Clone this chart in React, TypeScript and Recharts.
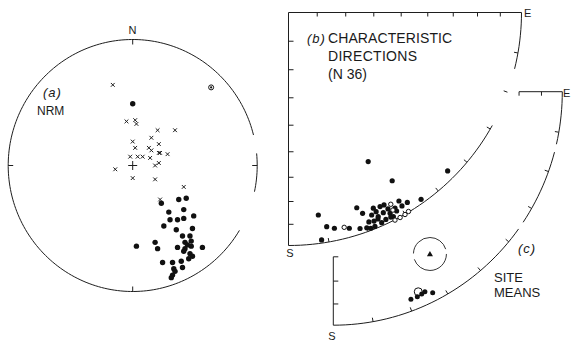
import React from 'react';
import { ScatterChart, Scatter, XAxis, YAxis } from 'recharts';

// ---------- data (net coordinates, % of net radius; x = east, y = north) ----------
// (a) NRM
const nrmCrosses = [
  { x: -16, y: 64 }, { x: -5, y: 35 }, { x: 2, y: 36 }, { x: 3, y: 33 }, { x: 20, y: 28 },
  { x: 34, y: 28 }, { x: 15, y: 22 }, { x: 0, y: 19 }, { x: 21, y: 17 }, { x: 2, y: 14 },
  { x: 13, y: 14 }, { x: 15, y: 12 }, { x: 21, y: 10 }, { x: 22, y: 10 }, { x: 28, y: 9 },
  { x: -2, y: 7 }, { x: 4, y: 7 }, { x: 8, y: 7 }, { x: 14, y: 6 }, { x: 21, y: 2 },
  { x: 18, y: 0 }, { x: -14, y: -3 }, { x: 0, y: -10 }, { x: 18, y: -11 }, { x: 41, y: -17 },
  { x: 22, y: -27 },
];
const nrmDots = [
  { x: 0, y: 49 }, { x: 23, y: -30 }, { x: 37, y: -27 }, { x: 43, y: -26 }, { x: 41, y: -35 },
  { x: 29, y: -37 }, { x: 30, y: -43 }, { x: 36, y: -43 }, { x: 41, y: -42 }, { x: 49, y: -40 },
  { x: 25, y: -48 }, { x: 35, y: -51 }, { x: 48, y: -50 }, { x: 40, y: -56 }, { x: 46, y: -56 },
  { x: 3, y: -64 }, { x: 18, y: -61 }, { x: 20, y: -66 }, { x: 36, y: -65 }, { x: 42, y: -61 },
  { x: 44, y: -63 }, { x: 47, y: -60 }, { x: 42, y: -66 }, { x: 47, y: -64 }, { x: 56, y: -65 },
  { x: 41, y: -68 }, { x: 46, y: -70 }, { x: 48, y: -72 }, { x: 45, y: -74 }, { x: 24, y: -77 },
  { x: 32, y: -77 }, { x: 39, y: -76 }, { x: 33, y: -82 }, { x: 34, y: -84 }, { x: 40, y: -81 },
  { x: 32, y: -87 }, { x: 31, y: -89 },
];
const nrmUpper = [{ x: 63, y: 62 }];

// (b) characteristic directions
const charLower = [
  { x: 34.2, y: -64.0 }, { x: 68.3, y: -68.0 }, { x: 44.5, y: -72.2 }, { x: 47.4, y: -80.9 },
  { x: 51.0, y: -81.5 }, { x: 56.9, y: -80.2 }, { x: 29.3, y: -83.8 }, { x: 31.8, y: -86.2 },
  { x: 12.8, y: -86.9 }, { x: 16.4, y: -91.9 }, { x: 19.7, y: -92.6 }, { x: 26.1, y: -92.6 },
  { x: 14.2, y: -97.6 }, { x: 36.4, y: -84.0 }, { x: 37.6, y: -85.5 }, { x: 39.3, y: -83.3 },
  { x: 41.0, y: -82.6 }, { x: 35.7, y: -86.9 }, { x: 38.5, y: -87.6 }, { x: 40.7, y: -85.9 },
  { x: 43.6, y: -86.2 }, { x: 45.0, y: -87.6 }, { x: 46.4, y: -85.2 }, { x: 33.6, y: -92.4 },
  { x: 35.3, y: -92.6 }, { x: 37.1, y: -91.8 }, { x: 40.0, y: -90.2 }, { x: 41.8, y: -88.8 },
  { x: 43.9, y: -87.8 }, { x: 38.4, y: -88.6 }, { x: 48.7, y: -83.0 }, { x: 36.7, y: -89.5 },
  { x: 42.7, y: -84.3 }, { x: 34.5, y: -89.9 }, { x: 45.7, y: -83.9 }, { x: 30.7, y: -92.7 },
];
const charUpper = [
  { x: 43.9, y: -82.3 }, { x: 44.8, y: -84.8 }, { x: 45.7, y: -89.1 }, { x: 47.9, y: -88.0 },
  { x: 50.0, y: -86.7 }, { x: 51.5, y: -85.4 }, { x: 23.9, y: -92.2 },
];

// (c) site means
const siteMeans = [
  { x: 33.9, y: -88.9 }, { x: 36.7, y: -87.8 }, { x: 38.6, y: -86.6 }, { x: 40.0, y: -85.7 },
  { x: 43.4, y: -86.1 },
];
const siteUpper = [{ x: 37.1, y: -85.7 }];
const formationMean = [{ x: 42.2, y: -69.5, a95: 7.2 }];

const arcTickAngles = [10, 20, 30, 40, 50, 60, 70, 80];

// ---------- geometry ----------
const W = 573;
const H = 343;
const INK = '#1e1e1e';
const FONT = '"Liberation Sans", Arial, sans-serif';

type G = { cx: number; cy: number; rx: number; ry: number };
const GA: G = { cx: 132.7, cy: 165.5, rx: 124.5, ry: 126 };
const GB: G = { cx: 288.5, cy: 12.5, rx: 233, ry: 233 };
const GC: G = { cx: 333.3, cy: 91.7, rx: 229, ry: 233.5 };

const rad = (a: number) => (a * Math.PI) / 180;
const pt = (g: G, a: number) => [g.cx + g.rx * Math.cos(rad(a)), g.cy - g.ry * Math.sin(rad(a))];
const arcD = (g: G, a0: number, a1: number) => {
  const n = Math.max(2, Math.ceil(Math.abs(a1 - a0) / 1.5));
  let d = '';
  for (let i = 0; i <= n; i++) {
    const [x, y] = pt(g, a0 + ((a1 - a0) * i) / n);
    d += (i ? 'L' : 'M') + x.toFixed(2) + ' ' + y.toFixed(2);
  }
  return d;
};
const rimTick = (g: G, a: number, len: number) => {
  const [x, y] = pt(g, a);
  return { x1: x, y1: y, x2: x - len * Math.cos(rad(a)), y2: y + len * Math.sin(rad(a)) };
};
// equal-area distance of inclination tick k (10 deg steps from centre)
const ea = (k: number) => Math.SQRT2 * Math.sin(rad(k * 5));

const Line = (p: { x1: number; y1: number; x2: number; y2: number }) => (
  <line {...p} stroke={INK} strokeWidth={1} />
);
const Arc = ({ d }: { d: string }) => <path d={d} fill="none" stroke={INK} strokeWidth={1} />;

const T = ({ x, y, children, size = 12, italic = false, anchor = 'start', ls = 0 }: any) => (
  <text x={x} y={y} fontSize={size} fontFamily={FONT} fill="#1a1a1a" fontStyle={italic ? 'italic' : 'normal'}
    textAnchor={anchor} letterSpacing={ls}>{children}</text>
);

function Frames() {
  const ticksB: any[] = [];
  for (let k = 1; k <= 8; k++) {
    const x = GB.cx + GB.rx * ea(k);
    const y = GB.cy + GB.ry * ea(k);
    ticksB.push(<Line key={'bt' + k} x1={x} y1={GB.cy} x2={x} y2={GB.cy + 4} />);
    ticksB.push(<Line key={'bl' + k} x1={GB.cx} y1={y} x2={GB.cx + 5} y2={y} />);
  }
  arcTickAngles.forEach((a) => ticksB.push(<Line key={'ba' + a} {...rimTick(GB, -a, 4)} />));

  const ticksC: any[] = [];
  [7, 8].forEach((k) => {
    const x = GC.cx + GC.rx * ea(k);
    ticksC.push(<Line key={'ct' + k} x1={x} y1={GC.cy} x2={x} y2={GC.cy + 4} />);
  });
  [6, 7, 8].forEach((k) => {
    const y = GC.cy + GC.ry * ea(k);
    ticksC.push(<Line key={'cl' + k} x1={GC.cx} y1={y} x2={GC.cx + 5} y2={y} />);
  });
  arcTickAngles.forEach((a) => ticksC.push(<Line key={'ca' + a} {...rimTick(GC, -a, 4)} />));

  return (
    <svg width={W} height={H} style={{ position: 'absolute', left: 0, top: 0 }}>
      {/* (a) */}
      <Arc d={arcD(GA, 14, 329)} />
      <Arc d={arcD(GA, -12, 5.5)} />
      {[0, 90, 180, 270].map((a) => <Line key={'at' + a} {...rimTick(GA, a, 5)} />)}
      <Line x1={GA.cx - 4.5} y1={GA.cy} x2={GA.cx + 4.5} y2={GA.cy} />
      <Line x1={GA.cx} y1={GA.cy - 4.5} x2={GA.cx} y2={GA.cy + 4.5} />
      <T x={132.5} y={34} size={11} anchor="middle">N</T>
      <T x={43} y={97} size={13} italic ls={1}>(a)</T>
      <T x={37} y={115} size={12}>NRM</T>

      {/* (b) */}
      <Line x1={GB.cx} y1={GB.cy} x2={GB.cx + GB.rx} y2={GB.cy} />
      <Line x1={GB.cx} y1={GB.cy} x2={GB.cx} y2={GB.cy + GB.ry} />
      <Arc d={arcD(GB, 0, -14)} />
      <Arc d={arcD(GB, -29, -90)} />
      {ticksB}
      <T x={524} y={17} size={11}>E</T>
      <T x={290} y={257} size={11} anchor="middle">S</T>
      <T x={307} y={43} size={13} italic ls={1}>(b)</T>
      <T x={328} y={43} size={14} ls={0.1}>CHARACTERISTIC</T>
      <T x={328} y={61} size={14} ls={0.3}>DIRECTIONS</T>
      <T x={328} y={79} size={14}>(N 36)</T>

      {/* (c) */}
      <Line x1={GC.cx + GC.rx * ea(7)} y1={GC.cy} x2={GC.cx + GC.rx} y2={GC.cy} />
      <Line x1={GC.cx} y1={GC.cy + GC.ry * ea(6)} x2={GC.cx} y2={GC.cy + GC.ry} />
      <Arc d={arcD(GC, 0, -13)} />
      <Arc d={arcD(GC, -15, -34)} />
      <Arc d={arcD(GC, -36, -90)} />
      {ticksC}
      <T x={563} y={96.5} size={11}>E</T>
      <T x={332} y={339.5} size={11} anchor="middle">S</T>
      <T x={518} y={253} size={13} italic ls={1}>(c)</T>
      <T x={494} y={282} size={13}>SITE</T>
      <T x={494} y={297} size={13}>MEANS</T>
    </svg>
  );
}

// ---------- marker shapes ----------
const crossShape = (p: any) => (
  <g>
    <line x1={p.cx - 1.9} y1={p.cy - 1.9} x2={p.cx + 1.9} y2={p.cy + 1.9} stroke={INK} strokeWidth={1} />
    <line x1={p.cx - 1.9} y1={p.cy + 1.9} x2={p.cx + 1.9} y2={p.cy - 1.9} stroke={INK} strokeWidth={1} />
  </g>
);
const dotShape = (r: number) => (p: any) => <circle cx={p.cx} cy={p.cy} r={r} fill="#111" />;
const openShape = (r: number) => (p: any) => (
  <circle cx={p.cx} cy={p.cy} r={r} fill="#fff" stroke="#111" strokeWidth={1} />
);
const bullseyeShape = (p: any) => (
  <g>
    <circle cx={p.cx} cy={p.cy} r={2.5} fill="#fff" stroke="#111" strokeWidth={1} />
    <circle cx={p.cx} cy={p.cy} r={1.1} fill="#111" />
  </g>
);
const meanShape = (p: any) => {
  const r = (p.payload.a95 * GC.rx) / 100;
  return (
    <g>
      <circle cx={p.cx} cy={p.cy} r={r} fill="none" stroke={INK} strokeWidth={0.9} strokeDasharray="46 6" />
      <polygon points={`${p.cx},${p.cy - 3} ${p.cx - 3},${p.cy + 2.2} ${p.cx + 3},${p.cy + 2.2}`} fill="#111" />
    </g>
  );
};

const marginOf = (g: G, xs: [number, number], ys: [number, number]) => {
  // plot box covers the net region given by the domains
  const left = g.cx + (g.rx * xs[0]) / 100;
  const right = g.cx + (g.rx * xs[1]) / 100;
  const top = g.cy - (g.ry * ys[1]) / 100;
  const bottom = g.cy - (g.ry * ys[0]) / 100;
  return { left, right: W - right, top, bottom: H - bottom };
};

const Layer = ({ children }: any) => (
  <div style={{ position: 'absolute', left: 0, top: 0, width: W, height: H }}>{children}</div>
);

function Panel({ g, xd, yd, children }: any) {
  return (
    <Layer>
      <ScatterChart width={W} height={H} margin={marginOf(g, xd, yd)}>
        <XAxis type="number" dataKey="x" domain={xd} hide allowDataOverflow />
        <YAxis type="number" dataKey="y" domain={yd} hide allowDataOverflow />
        {children}
      </ScatterChart>
    </Layer>
  );
}

export default function App() {
  return (
    <div style={{ position: 'absolute', left: 0, top: 0, width: W, height: H, background: '#fff', overflow: 'hidden' }}>
      <Frames />
      <Panel g={GA} xd={[-100, 100]} yd={[-100, 100]}>
        <Scatter data={nrmCrosses} shape={crossShape} isAnimationActive={false} />
        <Scatter data={nrmDots} shape={dotShape(2.7)} isAnimationActive={false} />
        <Scatter data={nrmUpper} shape={bullseyeShape} isAnimationActive={false} />
      </Panel>
      <Panel g={GB} xd={[0, 100]} yd={[-100, 0]}>
        <Scatter data={charLower} shape={dotShape(2.6)} isAnimationActive={false} />
        <Scatter data={charUpper} shape={openShape(2.2)} isAnimationActive={false} />
      </Panel>
      <Panel g={GC} xd={[0, 100]} yd={[-100, 0]}>
        <Scatter data={formationMean} shape={meanShape} isAnimationActive={false} />
        <Scatter data={siteUpper} shape={openShape(4)} isAnimationActive={false} />
        <Scatter data={siteMeans} shape={dotShape(2.5)} isAnimationActive={false} />
      </Panel>
    </div>
  );
}
